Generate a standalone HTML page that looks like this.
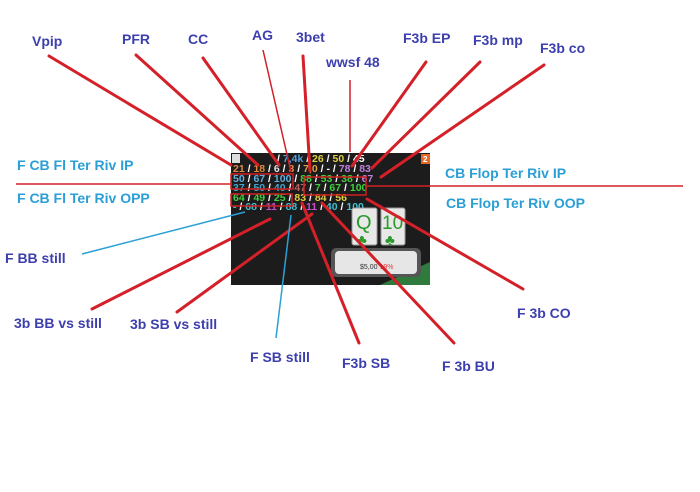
<!DOCTYPE html>
<html><head><meta charset="utf-8"><style>
html,body{margin:0;padding:0;background:#fff}
svg{display:block}
.n{font-family:"Liberation Sans",sans-serif;font-weight:bold;font-size:14px;fill:#3d3fae}
.b{font-family:"Liberation Sans",sans-serif;font-weight:bold;font-size:14px;fill:#2a9fd6}
.h{font-family:"Liberation Sans",sans-serif;font-weight:bold;font-size:10.5px}
</style></head><body>
<svg width="700" height="492" viewBox="0 0 700 492" xmlns="http://www.w3.org/2000/svg">
<rect width="700" height="492" fill="#fff"/>
<!-- HUD -->
<rect x="231" y="153" width="199" height="132" fill="#1c1c1c"/>
<polygon points="380,285 430,262 430,285" fill="#2f7a3c"/>
<rect x="232" y="154" width="8" height="9" fill="#ddd"/>
<rect x="421" y="154" width="9" height="10" fill="#e06a2a"/>
<text x="423" y="162" font-family="Liberation Sans" font-size="8" fill="#fff" font-weight="bold">2</text>
<g class="h">
<text x="277" y="162" fill="#fff">/ <tspan fill="#5aa0e0">7,4k</tspan> / <tspan fill="#e0d040">26</tspan> / <tspan fill="#e0d040">50</tspan> / 45</text>
<text x="233" y="172" fill="#fff"><tspan fill="#e08a40">21</tspan> / <tspan fill="#e08a40">18</tspan> / <tspan fill="#e0e0e0">6</tspan> / <tspan fill="#e08a40">3</tspan> / <tspan fill="#e0a040">7,0</tspan> / - / <tspan fill="#c080e0">78</tspan> / <tspan fill="#c080e0">83</tspan></text>
<text x="233" y="182" fill="#fff"><tspan fill="#60b0e0">50</tspan> / <tspan fill="#60b0e0">67</tspan> / <tspan fill="#60b0e0">100</tspan> / <tspan fill="#40d040">88</tspan> / <tspan fill="#40d040">53</tspan> / <tspan fill="#40d040">38</tspan> / <tspan fill="#c080e0">67</tspan></text>
<text x="233" y="191" fill="#fff"><tspan fill="#40a8d0">37</tspan> / <tspan fill="#40a8d0">50</tspan> / <tspan fill="#40a8d0">40</tspan> / <tspan fill="#c06060">47</tspan> / <tspan fill="#40d040">7</tspan> / <tspan fill="#40d040">67</tspan> / <tspan fill="#40d040">100</tspan></text>
<text x="233" y="201" fill="#fff"><tspan fill="#40d040">64</tspan> / <tspan fill="#40d040">49</tspan> / <tspan fill="#40d040">25</tspan> / <tspan fill="#e0d040">83</tspan> / <tspan fill="#e0d040">84</tspan> / <tspan fill="#e0d040">56</tspan></text>
<text x="233" y="210" fill="#fff"><tspan fill="#40c0d0">-</tspan> / <tspan fill="#40c0d0">68</tspan> / <tspan fill="#c050d0">11</tspan> / <tspan fill="#40c0d0">88</tspan> / <tspan fill="#c050d0">11</tspan> / <tspan fill="#40c0d0">40</tspan> / <tspan fill="#40c0d0">100</tspan></text>
</g>
<rect x="231" y="174" width="62" height="15" fill="none" stroke="#d02020" stroke-width="1.5"/>
<rect x="231" y="194" width="61" height="12" fill="none" stroke="#d02020" stroke-width="1.5"/>
<rect x="304" y="177" width="62" height="18" fill="none" stroke="#d02020" stroke-width="1.5"/>
<!-- cards -->
<rect x="352" y="208" width="25" height="37" rx="2" fill="#e8e8e8" stroke="#999"/>
<rect x="381" y="208" width="24" height="37" rx="2" fill="#e8e8e8" stroke="#999"/>
<text x="356" y="229" font-family="Liberation Sans" font-size="20" fill="#2a9a2a">Q</text>
<text x="382" y="229" font-family="Liberation Sans" font-size="19" fill="#2a9a2a">10</text>
<text x="357" y="245" font-size="15" fill="#2a9a2a">♣</text>
<text x="385" y="245" font-size="15" fill="#2a9a2a">♣</text>
<rect x="331" y="248" width="90" height="29" rx="5" fill="#555"/>
<rect x="335" y="251" width="82" height="23" rx="4" fill="#e6e6e6"/>
<text x="360" y="269" font-family="Liberation Sans" font-size="7" fill="#333">$5,00 <tspan fill="#e04040">19%</tspan></text>
<!-- lines -->
<g stroke="#d42028" stroke-width="3" stroke-linecap="round" fill="none">
<line x1="49" y1="56" x2="231" y2="165"/>
<line x1="136" y1="55" x2="258" y2="165"/>
<line x1="203" y1="58" x2="279" y2="165"/>
<line x1="303" y1="56" x2="310" y2="171"/>
<line x1="426" y1="62" x2="352" y2="166"/>
<line x1="480" y1="62" x2="372" y2="168"/>
<line x1="544" y1="65" x2="381" y2="177"/>
<line x1="92" y1="309" x2="270" y2="219"/>
<line x1="177" y1="312" x2="312" y2="214"/>
<line x1="302" y1="203" x2="359" y2="343"/>
<line x1="322" y1="203" x2="454" y2="343"/>
<line x1="367" y1="199" x2="523" y2="289"/>
</g>
<g stroke="#d42028" stroke-width="1.5" fill="none">
<line x1="263" y1="50" x2="291" y2="172"/>
<line x1="350" y1="80" x2="350" y2="152"/>
<line x1="366" y1="186" x2="683" y2="186"/>
<line x1="16" y1="184" x2="232" y2="184"/>
</g>
<g stroke="#2aa0d6" stroke-width="1.5" fill="none">
<line x1="82" y1="254" x2="245" y2="212"/>
<line x1="276" y1="338" x2="291" y2="215"/>
</g>
<!-- labels -->
<text class="n" x="32" y="46">Vpip</text>
<text class="n" x="122" y="44">PFR</text>
<text class="n" x="188" y="44">CC</text>
<text class="n" x="252" y="40">AG</text>
<text class="n" x="296" y="42">3bet</text>
<text class="n" x="326" y="67">wwsf 48</text>
<text class="n" x="403" y="43">F3b EP</text>
<text class="n" x="473" y="45">F3b mp</text>
<text class="n" x="540" y="53">F3b co</text>
<text class="b" x="17" y="170">F CB  Fl Ter Riv IP</text>
<text class="b" x="17" y="203">F CB  Fl Ter Riv OPP</text>
<text class="b" x="445" y="178">CB Flop Ter Riv IP</text>
<text class="b" x="446" y="208">CB Flop Ter Riv OOP</text>
<text class="n" x="5" y="263">F BB still</text>
<text class="n" x="14" y="328">3b BB vs still</text>
<text class="n" x="130" y="329">3b SB vs still</text>
<text class="n" x="250" y="362">F SB still</text>
<text class="n" x="342" y="368">F3b SB</text>
<text class="n" x="442" y="371">F 3b BU</text>
<text class="n" x="517" y="318">F 3b CO</text>
</svg>
</body></html>
